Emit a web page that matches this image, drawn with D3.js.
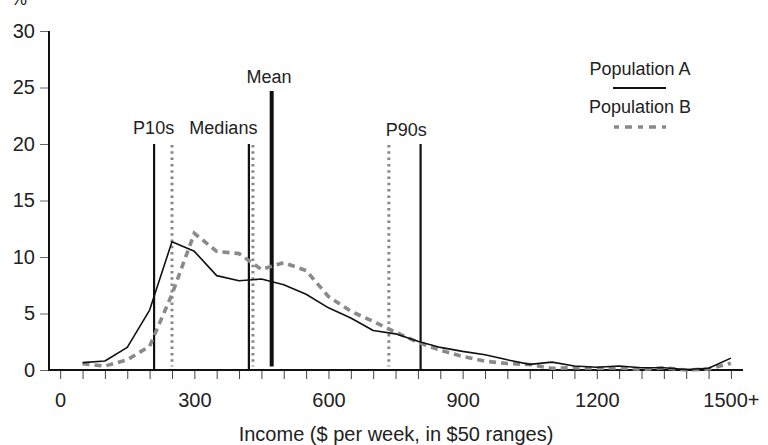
<!DOCTYPE html>
<html>
<head>
<meta charset="utf-8">
<script src="https://cdn.jsdelivr.net/npm/d3@7/dist/d3.min.js"></script>
<style>
  html, body { margin: 0; padding: 0; background: #fff; }
  svg { display: block; font-family: "Liberation Sans", Arial, sans-serif; }
</style>
</head>
<body>
<svg id="chart" width="768" height="445"></svg>
<script>
// ---- Data ----
const incomeBins = [50,100,150,200,250,300,350,400,450,500,550,600,650,700,750,800,850,900,950,1000,1050,1100,1150,1200,1250,1300,1350,1400,1450,1500];
const popA = [0.65,0.8,2.0,5.3,11.35,10.5,8.35,7.9,8.05,7.55,6.7,5.5,4.6,3.5,3.2,2.55,2.0,1.65,1.35,0.9,0.5,0.7,0.35,0.25,0.35,0.2,0.2,0.05,0.15,1.05];
const popB = [0.55,0.35,0.9,2.1,6.7,12.1,10.5,10.3,8.9,9.5,8.8,6.5,5.2,4.3,3.35,2.45,1.75,1.2,0.78,0.57,0.48,0.15,0.2,0.15,0.2,0.05,0.2,0.0,0.1,0.6];

const xTickValues = [0,300,600,900,1200,1500];
const xTickLabels = ["0","300","600","900","1200","1500+"];
const yTickValues = [0,5,10,15,20,25,30];

// Markers: A solid, B dotted
const markerValuesA = [210,422,806];
const markerValuesB = [250,431,735];
const meanValue = 473;
const meanHeight = 24.7;
const markerHeight = 20;

const markerLabels = ["P10s","Medians","P90s","Mean"];
const markerLabelX = [209,365,774,467];

// ---- Scales ----
const svg = d3.select("#chart");
const x = d3.scaleLinear().domain([-25, 1527]).range([49, 743]);
const y = d3.scaleLinear().domain([0, 30]).range([370, 31]);

// ---- Axes ----
const minorTicks = d3.range(0, 1501, 50);
const xAxis = d3.axisBottom(x)
  .tickValues(minorTicks)
  .tickSize(9)
  .tickPadding(14)
  .tickFormat(d => { const i = xTickValues.indexOf(d); return i >= 0 ? xTickLabels[i] : ""; });
const gx = svg.append("g").attr("transform", `translate(0,${y(0)})`).call(xAxis);
gx.select(".domain").remove();
gx.selectAll(".tick line").attr("stroke", "#444").attr("stroke-width", 1);
gx.selectAll(".tick text").attr("font-size", 20).attr("fill", "#222")
  .attr("font-family", "'Liberation Sans', Arial, sans-serif");

const yAxis = d3.axisLeft(y).tickValues(yTickValues).tickSize(9).tickPadding(5);
const gy = svg.append("g").attr("transform", `translate(${x(-25)},0)`).call(yAxis);
gy.select(".domain").remove();
gy.selectAll(".tick line").attr("stroke", "#666").attr("stroke-width", 1);
gy.selectAll(".tick text").attr("font-size", 20).attr("fill", "#222")
  .attr("font-family", "'Liberation Sans', Arial, sans-serif");

// axis lines
svg.append("line").attr("x1", x(-25)).attr("x2", x(-25)).attr("y1", y(30)).attr("y2", y(0))
  .attr("stroke", "#111").attr("stroke-width", 2);
svg.append("line").attr("x1", x(-25) - 1).attr("x2", x(1527)).attr("y1", y(0)).attr("y2", y(0))
  .attr("stroke", "#111").attr("stroke-width", 2);

// % label
svg.append("text").attr("x", 11).attr("y", 5).attr("font-size", 18).attr("fill", "#222").text("%");

// axis title
svg.append("text").attr("x", (x(-25) + x(1527)) / 2).attr("y", 441)
  .attr("text-anchor", "middle").attr("font-size", 20).attr("fill", "#222")
  .text("Income ($ per week, in $50 ranges)");

// ---- Marker lines ----
markerValuesB.forEach(v => {
  svg.append("line").attr("x1", x(v)).attr("x2", x(v)).attr("y1", y(markerHeight) + 1).attr("y2", y(0.3))
    .attr("stroke", "#888").attr("stroke-width", 3).attr("stroke-dasharray", "2.5,3.8");
});
markerValuesA.forEach(v => {
  svg.append("line").attr("x1", x(v)).attr("x2", x(v)).attr("y1", y(markerHeight)).attr("y2", y(0))
    .attr("stroke", "#111").attr("stroke-width", 2.2);
});
svg.append("line").attr("x1", x(meanValue)).attr("x2", x(meanValue)).attr("y1", y(meanHeight)).attr("y2", y(0.3))
  .attr("stroke", "#111").attr("stroke-width", 4);

// ---- Curves ----
const line = d3.line().x((d, i) => x(incomeBins[i])).y(d => y(d));
svg.append("path").datum(popB).attr("d", line).attr("fill", "none")
  .attr("stroke", "#8a8a8a").attr("stroke-width", 3.6).attr("stroke-dasharray", "7,5");
svg.append("path").datum(popA).attr("d", line).attr("fill", "none")
  .attr("stroke", "#111").attr("stroke-width", 1.6).attr("stroke-linejoin", "round");

// ---- Marker labels ----
const labelY = [134, 134, 136, 83];
markerLabels.forEach((t, i) => {
  svg.append("text").attr("x", x(markerLabelX[i])).attr("y", labelY[i])
    .attr("text-anchor", "middle").attr("font-size", 18).attr("fill", "#222").text(t);
});

// ---- Legend ----
const legendNames = ["Population A", "Population B"];
svg.append("text").attr("x", 640).attr("y", 75).attr("text-anchor", "middle").attr("font-size", 18).attr("fill", "#222").text(legendNames[0]);
svg.append("line").attr("x1", 613).attr("x2", 666).attr("y1", 88).attr("y2", 88).attr("stroke", "#111").attr("stroke-width", 2);
svg.append("text").attr("x", 640).attr("y", 113).attr("text-anchor", "middle").attr("font-size", 18).attr("fill", "#222").text(legendNames[1]);
svg.append("line").attr("x1", 614).attr("x2", 666).attr("y1", 127).attr("y2", 127).attr("stroke", "#8a8a8a").attr("stroke-width", 3.3).attr("stroke-dasharray", "5,6,7,6");
</script>
</body>
</html>
